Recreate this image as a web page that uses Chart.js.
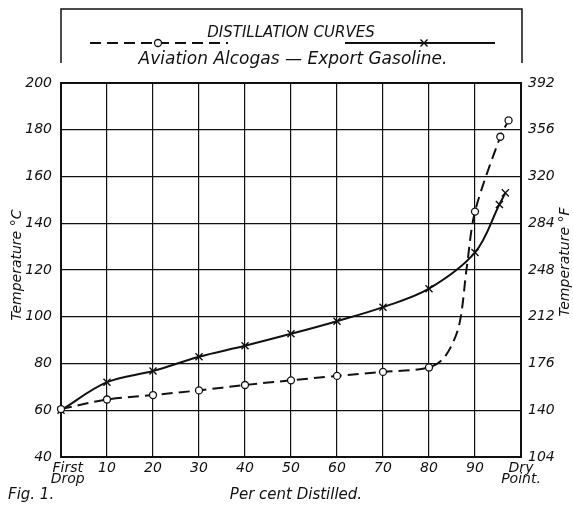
<!DOCTYPE html>
<html>
<head>
<meta charset="utf-8">
<script src="https://cdn.jsdelivr.net/npm/chart.js@4.4.1/dist/chart.umd.min.js"></script>
<style>
  html, body { margin: 0; padding: 0; background: #ffffff; }
  #wrap { width: 573px; height: 507px; position: relative; }
</style>
</head>
<body>
<div id="wrap"><canvas id="chart" width="573" height="507"></canvas></div>
<script>
// ---- Data ----
const chartTitle = 'DISTILLATION CURVES';
const alcogasName = 'Aviation Alcogas';
const gasolineName = 'Export Gasoline.';
const xAxisTitle = 'Per cent Distilled.';
const leftAxisTitle = 'Temperature °C';
const rightAxisTitle = 'Temperature °F';
const figureLabel = 'Fig. 1.';

const xTickValues = [0, 10, 20, 30, 40, 50, 60, 70, 80, 90, 100];
const xTickLabels = [['   First', '   Drop'], '10', '20', '30', '40', '50', '60', '70', '80', '90', ['Dry', 'Point.']];
const celsiusTicks = [40, 60, 80, 100, 120, 140, 160, 180, 200];
const fahrenheitTicks = [104, 140, 176, 212, 248, 284, 320, 356, 392];

// Aviation Alcogas (dashed, circles)
const alcogasPercent = [0, 10, 20, 30, 40, 50, 60, 70, 80, 83.5, 86.5, 88.2, 90, 95.5, 97.3];
const alcogasTemp    = [60.5, 64.6, 66.5, 68.5, 70.8, 72.8, 74.7, 76.4, 78.3, 83, 96, 121, 145, 177, 184];
const alcogasMarked  = [1, 1, 1, 1, 1, 1, 1, 1, 1, 0, 0, 0, 1, 1, 1];

// Export Gasoline (solid, crosses)
const gasolinePercent = [0, 10, 20, 30, 40, 50, 60, 70, 80, 90, 95.3, 96.6];
const gasolineTemp    = [60, 72, 76.8, 82.9, 87.6, 92.7, 98.1, 104.1, 112, 127.5, 148, 153];

// ---- Styling ----
const INK = '#111111';
const FONT = "'DejaVu Sans', 'Liberation Sans', sans-serif";
const alcogasDash = [11, 6];

const toPoints = (xs, ys) => xs.map((x, i) => ({ x: x, y: ys[i] }));

const decorPlugin = {
  id: 'decor',
  afterDraw(chart) {
    const ctx = chart.ctx;
    const a = chart.chartArea;
    const ds = chart.data.datasets;
    ctx.save();
    ctx.strokeStyle = INK;
    ctx.fillStyle = INK;

    // legend frame (open at bottom)
    ctx.lineWidth = 1.5;
    ctx.beginPath();
    ctx.moveTo(a.left, 63);
    ctx.lineTo(a.left, 9);
    ctx.lineTo(a.right + 1, 9);
    ctx.lineTo(a.right + 1, 63);
    ctx.stroke();

    const cx = (a.left + a.right) / 2;
    ctx.textAlign = 'center';
    ctx.textBaseline = 'alphabetic';
    ctx.font = 'italic 15px ' + FONT;
    ctx.fillText(chartTitle, cx, 37);

    // legend samples
    const ly = 43;
    ctx.lineWidth = ds[0].borderWidth;
    ctx.setLineDash(alcogasDash);
    ctx.beginPath(); ctx.moveTo(90, ly); ctx.lineTo(228, ly); ctx.stroke();
    ctx.setLineDash([]);
    ctx.fillStyle = '#ffffff';
    ctx.beginPath(); ctx.arc(158, ly, 3.5, 0, Math.PI * 2); ctx.fill();
    ctx.strokeStyle = INK; ctx.lineWidth = 1.3;
    ctx.beginPath(); ctx.arc(158, ly, 3.5, 0, Math.PI * 2); ctx.stroke();
    ctx.fillStyle = INK;

    ctx.lineWidth = ds[1].borderWidth;
    ctx.beginPath(); ctx.moveTo(345, ly); ctx.lineTo(495, ly); ctx.stroke();
    ctx.lineWidth = 1.4;
    Chart.helpers.drawPoint(ctx, { pointStyle: 'crossRot', radius: 5, borderWidth: 1.4 }, 424, ly);

    ctx.font = 'italic 17px ' + FONT;
    ctx.fillText(alcogasName + ' — ' + gasolineName, cx + 2, 64);

    // axis titles
    ctx.font = 'italic 14px ' + FONT;
    ctx.save();
    ctx.translate(17, (a.top + a.bottom) / 2 - 5);
    ctx.rotate(-Math.PI / 2);
    ctx.textBaseline = 'middle';
    ctx.fillText(leftAxisTitle, 0, 0);
    ctx.restore();

    ctx.save();
    ctx.translate(565, (a.top + a.bottom) / 2 - 8);
    ctx.rotate(-Math.PI / 2);
    ctx.textBaseline = 'middle';
    ctx.fillText(rightAxisTitle, 0, 0);
    ctx.restore();

    ctx.font = 'italic 15px ' + FONT;
    ctx.textAlign = 'center';
    ctx.fillText(xAxisTitle, 296, 499);
    ctx.textAlign = 'left';
    ctx.fillText(figureLabel, 8, 499);

    ctx.restore();
  }
};

const gridWidth = (ctx, n) => (ctx.index === 0 || ctx.index === n - 1) ? 2 : 1.2;

new Chart(document.getElementById('chart'), {
  type: 'scatter',
  data: {
    datasets: [
      {
        label: alcogasName,
        data: toPoints(alcogasPercent, alcogasTemp),
        showLine: true,
        borderColor: INK,
        borderWidth: 2,
        borderDash: alcogasDash,
        tension: 0.3,
        pointStyle: 'circle',
        pointRadius: c => alcogasMarked[c.dataIndex] ? 3.5 : 0,
        pointBorderWidth: 1.3,
        pointBackgroundColor: '#ffffff',
        pointBorderColor: INK,
        clip: false,
        yAxisID: 'y'
      },
      {
        label: gasolineName,
        data: toPoints(gasolinePercent, gasolineTemp),
        showLine: true,
        borderColor: INK,
        borderWidth: 2,
        tension: 0.35,
        pointStyle: 'crossRot',
        pointRadius: 5,
        pointBorderWidth: 1.4,
        pointBorderColor: INK,
        pointBackgroundColor: INK,
        clip: false,
        yAxisID: 'y'
      }
    ]
  },
  options: {
    responsive: false,
    animation: false,
    devicePixelRatio: 1,
    layout: { padding: { top: 83, left: 0, right: 0, bottom: 0 } },
    plugins: {
      legend: { display: false },
      title: { display: false },
      tooltip: { enabled: false }
    },
    scales: {
      x: {
        type: 'linear',
        min: 0,
        max: 100,
        afterBuildTicks: s => { s.ticks = xTickValues.map(v => ({ value: v })); },
        afterFit: s => { s.height = 50; },
        ticks: {
          callback: (v, i) => xTickLabels[i],
          autoSkip: false,
          maxRotation: 0,
          minRotation: 0,
          padding: 5,
          color: INK,
          font: { family: FONT, size: 14, style: 'italic', lineHeight: 0.85 }
        },
        grid: { color: INK, lineWidth: c => gridWidth(c, xTickValues.length), drawTicks: false },
        border: { display: true, color: INK, width: 2 }
      },
      y: {
        type: 'linear',
        position: 'left',
        min: 40,
        max: 200,
        afterBuildTicks: s => { s.ticks = celsiusTicks.map(v => ({ value: v })); },
        afterFit: s => { s.width = 61; },
        ticks: {
          padding: 9,
          color: INK,
          font: { family: FONT, size: 14, style: 'italic' }
        },
        grid: { color: INK, lineWidth: c => gridWidth(c, celsiusTicks.length), drawTicks: false },
        border: { display: true, color: INK, width: 2 }
      },
      y2: {
        type: 'linear',
        position: 'right',
        min: 104,
        max: 392,
        afterBuildTicks: s => { s.ticks = fahrenheitTicks.map(v => ({ value: v })); },
        afterFit: s => { s.width = 52; },
        ticks: {
          padding: 7,
          color: INK,
          font: { family: FONT, size: 14, style: 'italic' }
        },
        grid: { display: false, drawTicks: false },
        border: { display: true, color: INK, width: 2 }
      }
    }
  },
  plugins: [decorPlugin]
});
</script>
</body>
</html>
